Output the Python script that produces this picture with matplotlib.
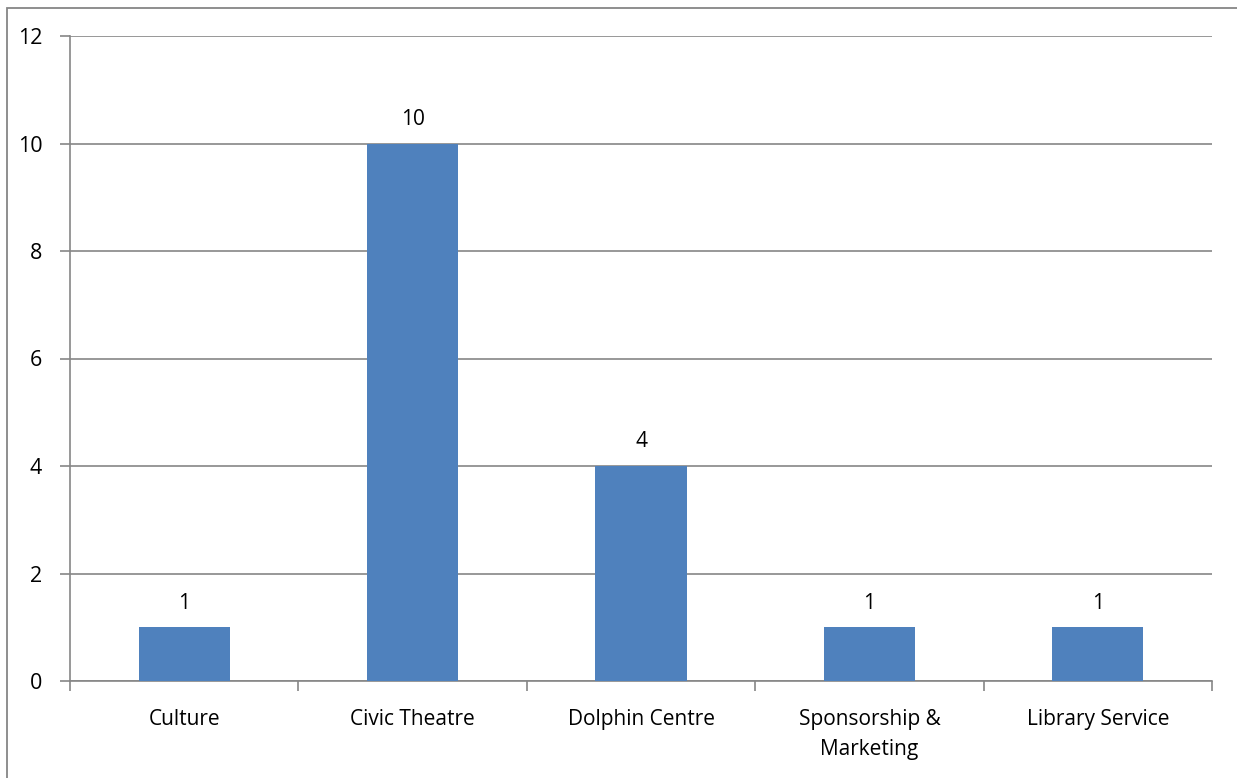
import matplotlib.pyplot as plt
from matplotlib.patches import Rectangle

# Chart data
categories = ["Culture", "Civic Theatre", "Dolphin Centre", "Sponsorship &\nMarketing", "Library Service"]
counts = [1, 10, 4, 1, 1]

plt.rcParams['font.family'] = ['Open Sans', 'DejaVu Sans']

W, H = 1237, 778
fig = plt.figure(figsize=(W / 100, H / 100), dpi=100)
ax = fig.add_axes([70 / W, 1 - 681 / H, (1212 - 70) / W, (681 - 36) / H])

grey = "#868686"
fs = 15
x = range(len(categories))
ax.bar(x, counts, width=0.4, color="#4F81BD", zorder=3)

for xi, v in zip(x, counts):
    ax.text(xi, v + 0.45, str(v), ha="center", va="center", fontsize=fs)

ax.set_xlim(-0.5, len(categories) - 0.5)
ax.set_ylim(0, 12)
ax.set_yticks(range(0, 13, 2))
ax.yaxis.grid(True, color=grey, linewidth=1.2, zorder=0)

# category labels centred, tick marks on the boundaries
ax.set_xticks(list(x))
ax.set_xticklabels(categories, fontsize=fs, linespacing=1.6)
ax.tick_params(axis="x", which="major", length=0, pad=20)
ax.set_xticks([i - 0.5 for i in range(len(categories) + 1)], minor=True)
ax.tick_params(axis="x", which="minor", length=7, width=1.2, color=grey, direction="out")
ax.tick_params(axis="y", length=7, width=1.2, color=grey, labelsize=15.5, pad=13)

for s in ["top", "right"]:
    ax.spines[s].set_visible(False)
for s in ["left", "bottom"]:
    ax.spines[s].set_color(grey)
    ax.spines[s].set_linewidth(1.2)

# outer chart border (right and bottom edges fall outside the image)
fig.patches.append(Rectangle((7 / W, -0.01), 1.0, 1 - 7.5 / H + 0.01,
                             transform=fig.transFigure, fill=False,
                             edgecolor=grey, linewidth=1.3))

fig.savefig("out.png", dpi=100)
